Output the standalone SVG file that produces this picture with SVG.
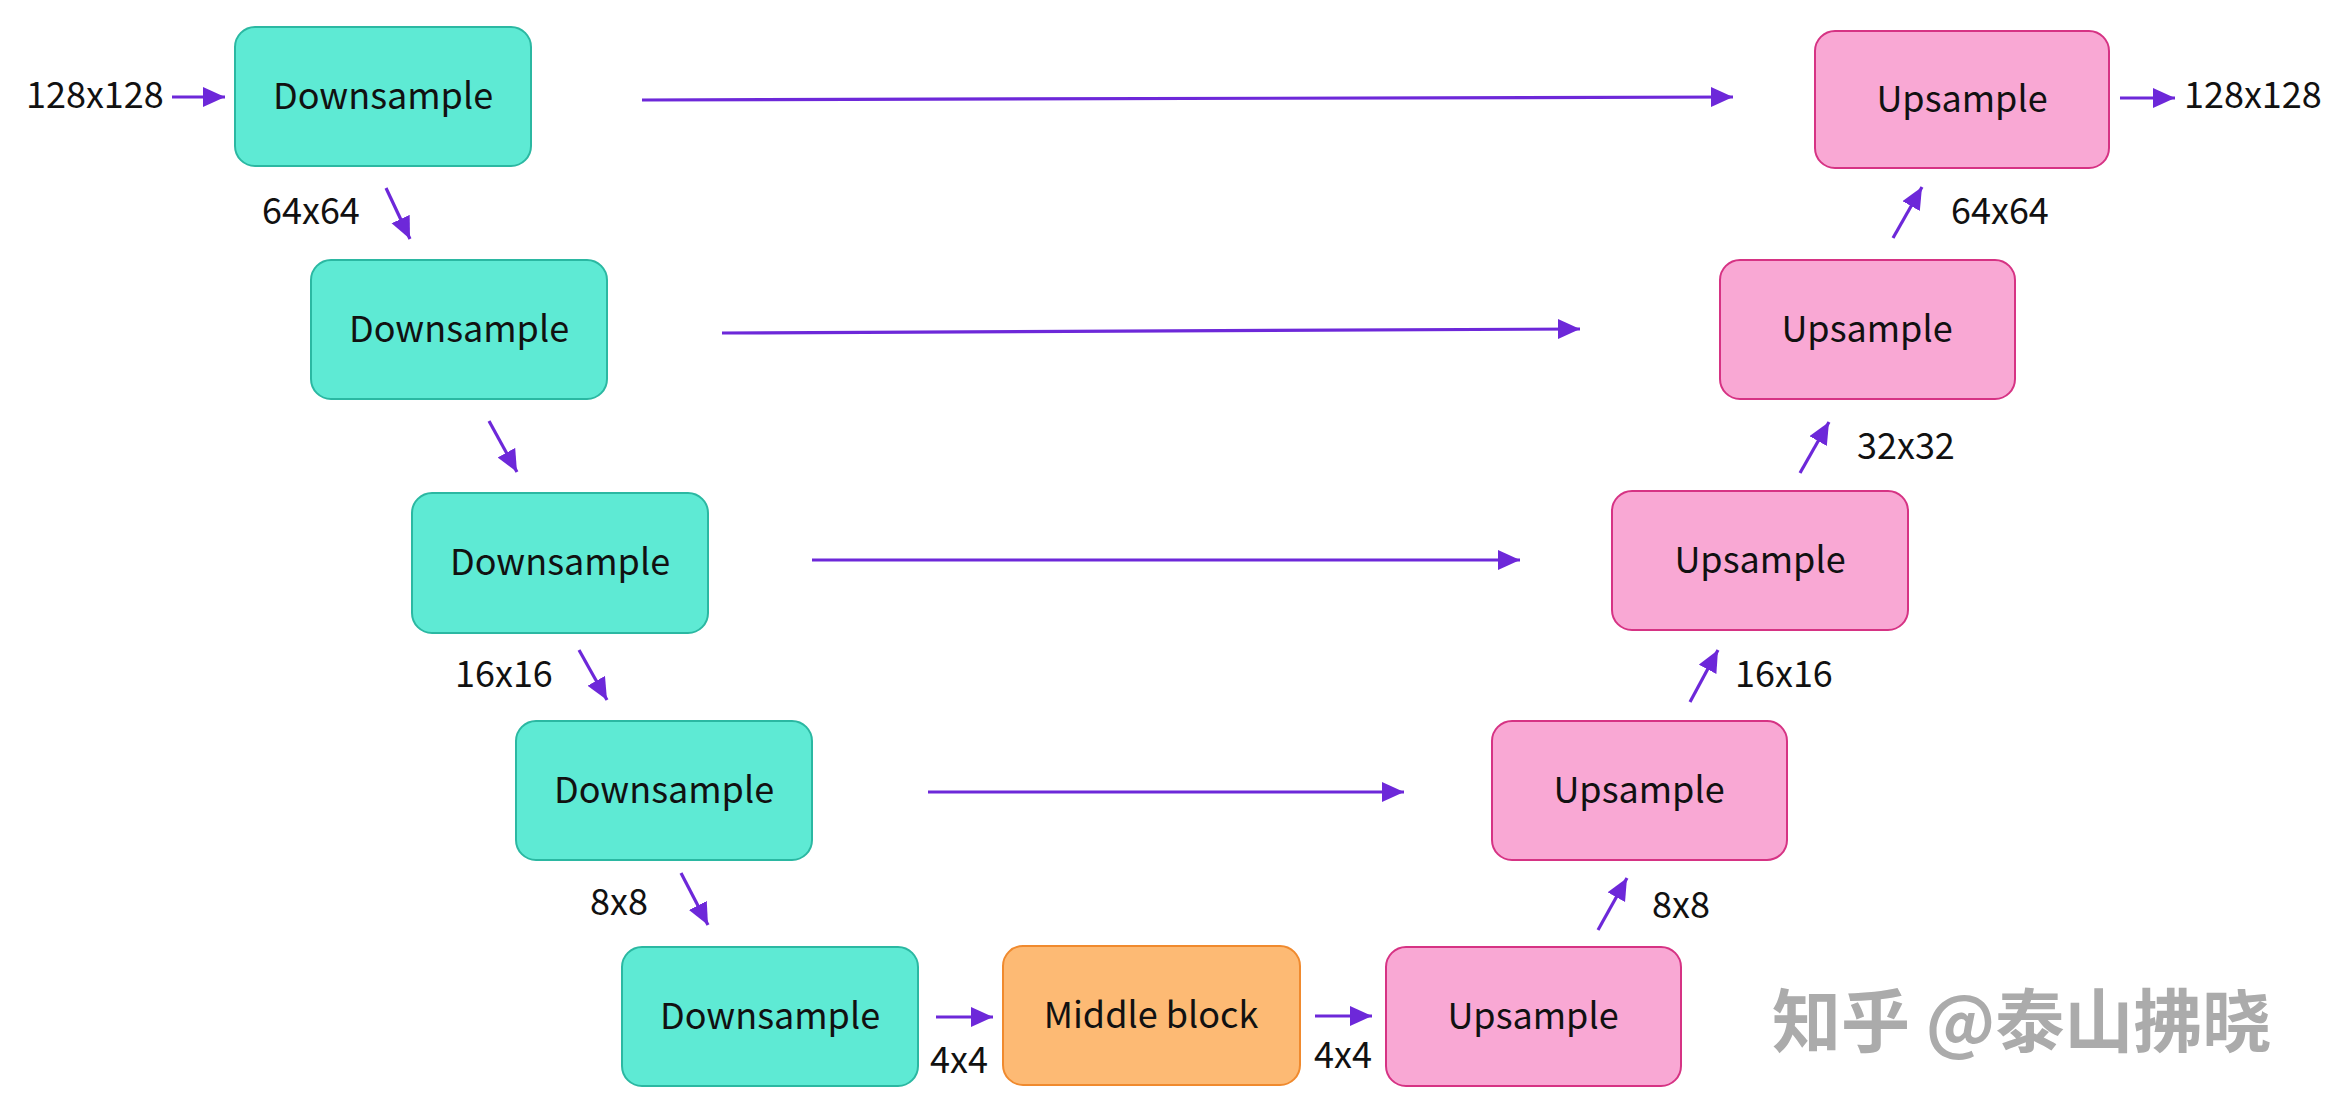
<svg xmlns="http://www.w3.org/2000/svg" width="2332" height="1112" viewBox="0 0 2332 1112">
<style>
.down{fill:#5EEAD4;stroke:#2BB8A2;stroke-width:2}
.up{fill:#F9A8D4;stroke:#D63384;stroke-width:2}
.mid{fill:#FDBA74;stroke:#F08A2E;stroke-width:2}
.t{font-family:"Noto Sans CJK SC","Noto Sans",sans-serif;font-size:36px;fill:#111;text-anchor:middle}
.lbl{font-family:"Noto Sans CJK SC","Noto Sans",sans-serif;font-size:36px;fill:#111}
.c{stroke:#6D28D9;stroke-width:3.2;fill:none;marker-end:url(#ah)}
.wm{font-family:"Noto Sans CJK SC",sans-serif;font-size:69px;font-weight:700;fill:#ababab}
</style>
<defs>
<marker id="ah" markerUnits="userSpaceOnUse" markerWidth="24" markerHeight="22" refX="22" refY="10" orient="auto">
<path d="M0,0 L22,10 L0,20 z" fill="#6D28D9"/>
</marker>
</defs>
<rect width="2332" height="1112" fill="#fff"/>
<g id="connectors">
<path class="c" d="M172,97 L225,97"/>
<path class="c" d="M386,188 L410,239"/>
<path class="c" d="M489,421 L517,472"/>
<path class="c" d="M579,650 L607,700"/>
<path class="c" d="M681,873 L708,925"/>
<path class="c" d="M936,1017 L993,1017"/>
<path class="c" d="M1315,1016 L1372,1016"/>
<path class="c" d="M1598,930 L1627,878"/>
<path class="c" d="M1690,702 L1718,650"/>
<path class="c" d="M1800,473 L1829,422"/>
<path class="c" d="M1893,238 L1922,187"/>
<path class="c" d="M2120,98 L2175,98"/>
<path class="c" d="M642,100 L1733,97"/>
<path class="c" d="M722,333 L1580,329"/>
<path class="c" d="M812,560 L1520,560"/>
<path class="c" d="M928,792 L1404,792"/>
</g>
<g id="down1"><rect class="down" x="235" y="27" width="296" height="139" rx="20"/><text class="t" x="383" y="109">Downsample</text></g>
<g id="down2"><rect class="down" x="311" y="260" width="296" height="139" rx="20"/><text class="t" x="459" y="342">Downsample</text></g>
<g id="down3"><rect class="down" x="412" y="493" width="296" height="140" rx="20"/><text class="t" x="560" y="575">Downsample</text></g>
<g id="down4"><rect class="down" x="516" y="721" width="296" height="139" rx="20"/><text class="t" x="664" y="803">Downsample</text></g>
<g id="down5"><rect class="down" x="622" y="947" width="296" height="139" rx="20"/><text class="t" x="770" y="1029">Downsample</text></g>
<g id="middle"><rect class="mid" x="1003" y="946" width="297" height="139" rx="20"/><text class="t" x="1151" y="1028">Middle block</text></g>
<g id="up1"><rect class="up" x="1386" y="947" width="295" height="139" rx="20"/><text class="t" x="1533" y="1029">Upsample</text></g>
<g id="up2"><rect class="up" x="1492" y="721" width="295" height="139" rx="20"/><text class="t" x="1639" y="803">Upsample</text></g>
<g id="up3"><rect class="up" x="1612" y="491" width="296" height="139" rx="20"/><text class="t" x="1760" y="573">Upsample</text></g>
<g id="up4"><rect class="up" x="1720" y="260" width="295" height="139" rx="20"/><text class="t" x="1867" y="342">Upsample</text></g>
<g id="up5"><rect class="up" x="1815" y="31" width="294" height="137" rx="20"/><text class="t" x="1962" y="112">Upsample</text></g>
<g id="labels">
<text class="lbl" x="26" y="108">128x128</text>
<text class="lbl" x="262" y="224">64x64</text>
<text class="lbl" x="455" y="687">16x16</text>
<text class="lbl" x="590" y="915">8x8</text>
<text class="lbl" x="930" y="1073">4x4</text>
<text class="lbl" x="1314" y="1068">4x4</text>
<text class="lbl" x="1652" y="918">8x8</text>
<text class="lbl" x="1735" y="687">16x16</text>
<text class="lbl" x="1857" y="459">32x32</text>
<text class="lbl" x="1951" y="224">64x64</text>
<text class="lbl" x="2184" y="108">128x128</text>
</g>
<text class="wm" x="1772" y="1047">知乎 @泰山拂晓</text>
</svg>
